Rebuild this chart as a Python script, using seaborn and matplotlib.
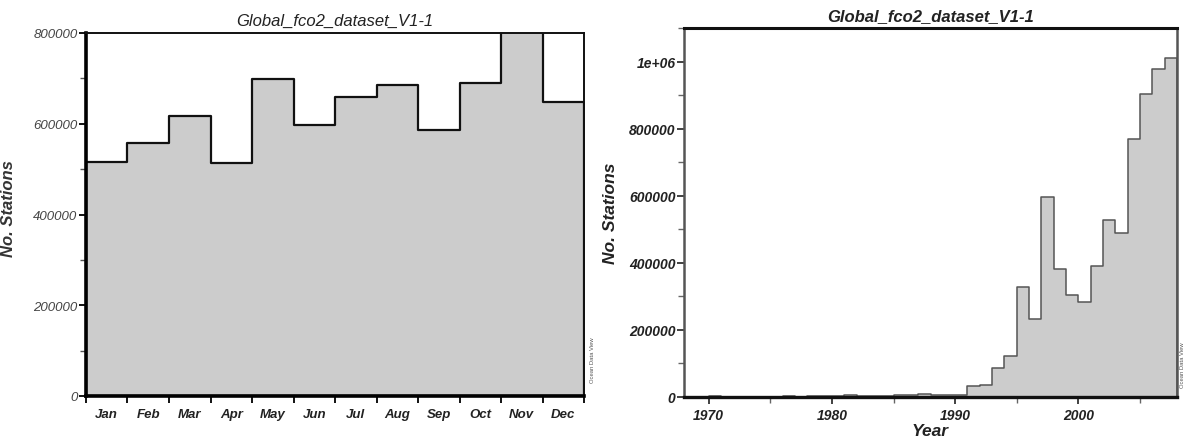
import numpy as np
import pandas as pd
import matplotlib
matplotlib.use("Agg")
import matplotlib.pyplot as plt
from matplotlib.ticker import MultipleLocator, FixedLocator, NullFormatter, FixedFormatter
import seaborn as sns

# ---------------- data ----------------
months = ["Jan", "Feb", "Mar", "Apr", "May", "Jun", "Jul", "Aug", "Sep", "Oct", "Nov", "Dec"]
month_counts = [516000, 558000, 616000, 513000, 698000, 598000, 660000, 685000, 586000, 689000, 830000, 647000]

years = list(range(1968, 2008))
year_counts = [0, 0, 3000, 0, 0, 0, 0, 0, 2000, 0,
               1500, 4000, 2000, 6000, 4000, 3500, 4000, 6000, 6000, 10000,
               5000, 5000, 5000, 33000, 36000, 85000, 122000, 329000, 234000, 596000,
               383000, 304000, 284000, 391000, 529000, 490000, 769000, 903000, 978000, 1010000]

title_text = "Global_fco2_dataset_V1-1"
ylabel_text = "No. Stations"
xlabel_text = "Year"
watermark = "Ocean Data View"

# ---------------- style ----------------
sns.set_theme(style="white")
plt.rcParams["font.family"] = ["Liberation Sans", "DejaVu Sans"]

W, H = 1185, 439
fig = plt.figure(figsize=(W / 100, H / 100), dpi=100)

def rect(l, t, r, b):
    return [l / W, (H - b) / H, (r - l) / W, (b - t) / H]

ax1 = fig.add_axes(rect(86, 34, 584, 397))
ax2 = fig.add_axes(rect(684, 29, 1177, 398))

fill_c = "#cccccc"

# ---------- left: monthly ----------
pos = np.arange(len(months)).astype(float)
sns.histplot(x=pos, weights=np.asarray(month_counts, dtype=float), discrete=True,
             element="step", fill=True, common_bins=False, ax=ax1,
             facecolor=fill_c, edgecolor="#111111", linewidth=1.6, alpha=1)
ax1.set_xlim(-0.5, len(months) - 0.5)
ax1.set_ylim(0, 800000)
ax1.xaxis.set_major_locator(FixedLocator(np.arange(-0.5, len(months), 1)))
ax1.xaxis.set_major_formatter(NullFormatter())
ax1.xaxis.set_minor_locator(FixedLocator(np.arange(len(months))))
ax1.xaxis.set_minor_formatter(FixedFormatter(months))
ax1.yaxis.set_major_locator(MultipleLocator(200000))
ax1.yaxis.set_minor_locator(MultipleLocator(100000))
ax1.tick_params(axis="x", which="major", direction="out", length=5, width=1.3, color="black", bottom=True)
ax1.tick_params(axis="x", which="minor", length=0, pad=9, labelsize=9.5, labelcolor="#222222")
ax1.tick_params(axis="y", which="major", direction="out", length=5, width=1.3, color="black", left=True,
                labelsize=9.5, labelcolor="#444444", pad=1)
ax1.tick_params(axis="y", which="minor", direction="out", length=4, width=1.0, color="#555555", left=True)
for lab in ax1.get_xticklabels(minor=True):
    lab.set_fontstyle("italic"); lab.set_fontweight("bold")
for lab in ax1.get_yticklabels():
    lab.set_fontstyle("italic")
ax1.spines["left"].set_linewidth(2.6); ax1.spines["left"].set_color("black")
ax1.spines["bottom"].set_linewidth(2.6); ax1.spines["bottom"].set_color("black")
ax1.spines["top"].set_linewidth(1.4); ax1.spines["top"].set_color("#111111")
ax1.spines["right"].set_linewidth(1.4); ax1.spines["right"].set_color("#111111")
ax1.set_xlabel("")
ax1.set_ylabel(ylabel_text, fontsize=12, fontstyle="italic", fontweight="bold", color="#333333")
ax1.yaxis.set_label_coords((16 - 86) / 498, 0.52)
ax1.set_title(title_text, fontsize=12, fontstyle="italic", color="#222222", pad=6)

# ---------- right: yearly ----------
sns.histplot(x=np.asarray(years, dtype=float) + 0.5, weights=np.asarray(year_counts, dtype=float),
             binwidth=1, binrange=(1968, 2008),
             element="step", fill=True, common_bins=False, ax=ax2,
             facecolor=fill_c, edgecolor="#555555", linewidth=1.1, alpha=1)
ax2.set_xlim(1968, 2008)
ax2.set_ylim(0, 1100000)
ax2.xaxis.set_major_locator(MultipleLocator(10))
ax2.xaxis.set_minor_locator(MultipleLocator(5))
ax2.yaxis.set_major_locator(FixedLocator([0, 200000, 400000, 600000, 800000, 1000000]))
ax2.yaxis.set_major_formatter(FixedFormatter(["0", "200000", "400000", "600000", "800000", "1e+06"]))
ax2.yaxis.set_minor_locator(MultipleLocator(100000))
ax2.tick_params(axis="x", which="major", direction="out", length=5, width=1.3, color="#333333", bottom=True,
                labelsize=10, labelcolor="#222222", pad=3)
ax2.tick_params(axis="x", which="minor", direction="out", length=4, width=1.0, color="#666666", bottom=True)
ax2.tick_params(axis="y", which="major", direction="out", length=5, width=1.3, color="#333333", left=True,
                labelsize=10, labelcolor="#222222", pad=1)
ax2.tick_params(axis="y", which="minor", direction="out", length=4, width=1.0, color="#666666", left=True)
for lab in ax2.get_xticklabels() + ax2.get_yticklabels():
    lab.set_fontstyle("italic"); lab.set_fontweight("bold")
ax2.spines["left"].set_linewidth(1.8); ax2.spines["left"].set_color("#555555")
ax2.spines["right"].set_linewidth(1.8); ax2.spines["right"].set_color("#555555")
ax2.spines["bottom"].set_linewidth(2.4); ax2.spines["bottom"].set_color("#111111")
ax2.spines["top"].set_linewidth(2.2); ax2.spines["top"].set_color("#111111")
ax2.set_xlabel(xlabel_text, fontsize=12.5, fontstyle="italic", fontweight="bold", color="#222222", labelpad=1)
ax2.set_ylabel(ylabel_text, fontsize=12.5, fontstyle="italic", fontweight="bold", color="#222222", labelpad=8)
ax2.set_title(title_text, fontsize=12, fontstyle="italic", fontweight="bold", color="#222222", pad=6)

# watermarks
fig.text(593 / W, 1 - 360 / H, watermark, rotation=90, fontsize=4.2, color="#555555",
         ha="center", va="center")
fig.text(1182 / W, 1 - 365 / H, watermark, rotation=90, fontsize=4.2, color="#555555",
         ha="center", va="center")

fig.savefig("out.png", dpi=100)
